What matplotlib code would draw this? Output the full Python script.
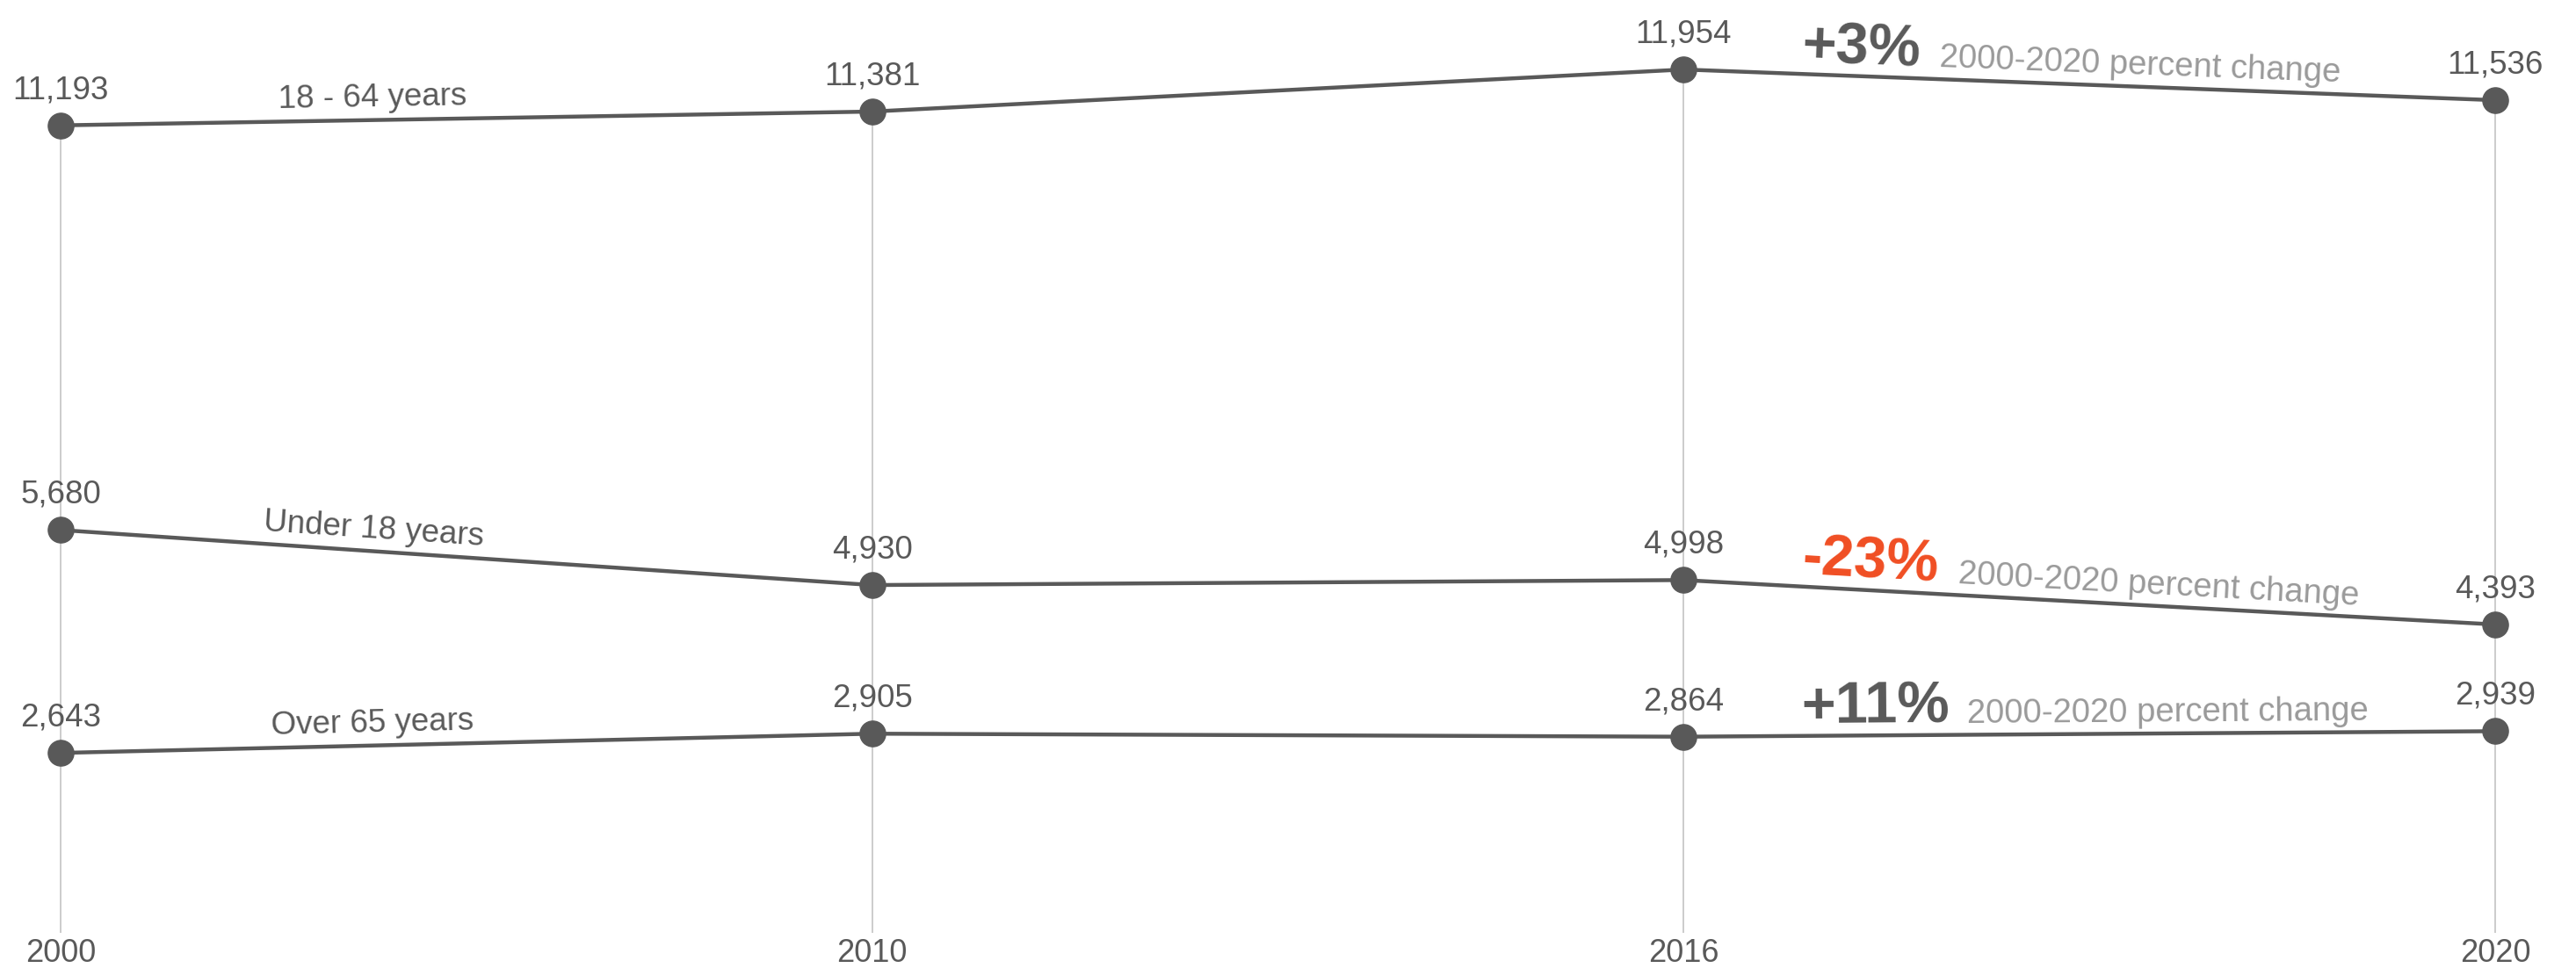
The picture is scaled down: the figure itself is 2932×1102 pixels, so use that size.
import matplotlib
matplotlib.use("Agg")
import matplotlib.pyplot as plt
import numpy as np
import math

plt.rcParams['font.family'] = ['Liberation Sans', 'DejaVu Sans']

# ---- data ----
years = ['2000', '2010', '2016', '2020']
series_names = ['18 - 64 years', 'Under 18 years', 'Over 65 years']
adults_18_64 = [11193, 11381, 11954, 11536]
under_18 = [5680, 4930, 4998, 4393]
over_65 = [2643, 2905, 2864, 2939]
pct_colors = ['#595959', '#f04e23', '#595959']
pct_caption = '2000-2020 percent change'

series = [adults_18_64, under_18, over_65]

LINE = '#595959'
GRID = '#c4c4c4'
CAP = '#9a9a9a'

W, H = 2932, 1102
fig = plt.figure(figsize=(W / 100, H / 100), dpi=100)
bottom_px = 40
ax = fig.add_axes([0, bottom_px / H, 1, 1 - bottom_px / H])

# scales (pixel layout)
x0_px, dx_px = 69, 923.67
zero_px, ppu = 1078, 0.08356
ax.set_xlim(-x0_px / dx_px, (W - x0_px) / dx_px)
ax.set_ylim((zero_px - (H - bottom_px)) / ppu, zero_px / ppu)

xs = np.arange(len(years))

for s in ax.spines.values():
    s.set_visible(False)
ax.set_yticks([])
ax.set_xticks(xs, years)
ax.tick_params(axis='x', length=0, pad=4.5, labelsize=26, labelcolor=LINE)

# vertical guide lines from bottom up to top series
ax.vlines(xs, ax.get_ylim()[0], series[0], color=GRID, lw=1.2, zorder=1)

for vals in series:
    ax.plot(xs, vals, color=LINE, lw=3.2, marker='o', markersize=21,
            markerfacecolor=LINE, markeredgecolor=LINE, zorder=3,
            solid_capstyle='round')
    for xi, v in zip(xs, vals):
        ax.annotate(f"{v:,}", (xi, v), xytext=(0, 22), textcoords='offset points',
                    ha='center', va='baseline', fontsize=26.5, color=LINE, zorder=4)


def seg_angle(xa, ya, xb, yb):
    pa = ax.transData.transform((xa, ya))
    pb = ax.transData.transform((xb, yb))
    return math.degrees(math.atan2(pb[1] - pa[1], pb[0] - pa[0]))


def y_on(vals, xq):
    return float(np.interp(xq, xs, vals))


# series name labels along first segment
for name, vals in zip(series_names, series):
    xq = 0.385
    ang = seg_angle(0, vals[0], 1, vals[1])
    ax.annotate(name, (xq, y_on(vals, xq)), xytext=(0, 11), textcoords='offset points',
                ha='center', va='baseline', fontsize=26.5, color=LINE,
                rotation=ang, rotation_mode='anchor', zorder=4)

fig.canvas.draw()
renderer = fig.canvas.get_renderer()

# percent change annotations along last segment
for vals, col in zip(series, pct_colors):
    pct = round((vals[-1] - vals[0]) / vals[0] * 100)
    ang = seg_angle(2, vals[2], 3, vals[3])
    xq = 2.145
    t = ax.annotate(f"{pct:+d}%", (xq, y_on(vals, xq)), xytext=(0, 10),
                    textcoords='offset points', ha='left', va='baseline',
                    fontsize=48, fontweight='bold', color=col,
                    rotation=ang, rotation_mode='anchor', zorder=4)
    bb = t.get_window_extent(renderer)
    gx_px = bb.x1 + 20
    gx = ax.transData.inverted().transform((gx_px, 0))[0]
    ax.annotate(pct_caption, (gx, y_on(vals, gx)), xytext=(0, 10),
                textcoords='offset points', ha='left', va='baseline',
                fontsize=27.5, color=CAP, rotation=ang, rotation_mode='anchor',
                zorder=4)

fig.savefig('out.png', dpi=100, facecolor='white')
